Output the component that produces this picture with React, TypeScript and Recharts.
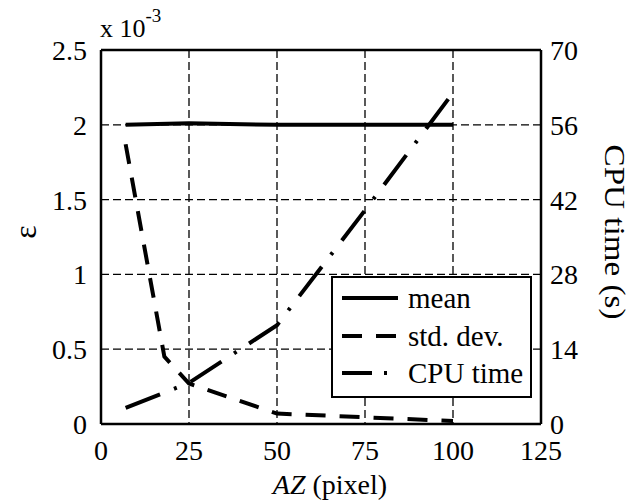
import React from 'react';
import { LineChart, Line, XAxis, YAxis, CartesianGrid, ReferenceLine } from 'recharts';

const azValues = [7, 18, 25, 50, 75, 100];
const meanValues = [2.0, null, 2.01, 2.0, 2.0, 2.0];
const stdDevValues = [1.87, 0.45, 0.27, 0.07, 0.045, 0.02];
const cpuValues = [3.0, null, 7.7, 18.5, 40, 62];

const xTicks = [0, 25, 50, 75, 100, 125];
const epsTicks = [0, 0.5, 1, 1.5, 2, 2.5];
const cpuTicks = [0, 14, 28, 42, 56, 70];

const data = azValues.map((az, i) => ({
  az,
  mean: meanValues[i],
  std: stdDevValues[i],
  cpu: cpuValues[i],
}));

const FONT = '"Times New Roman", "Liberation Serif", Tinos';
const fontCss = { fontFamily: FONT };

const SerifTick = (props: any) => {
  const { x, y, payload, textAnchor } = props;
  return (
    <text x={x} y={y} textAnchor={textAnchor} dy="0.355em" fill="#000" fontSize={28} style={fontCss}>
      {payload.value}
    </text>
  );
};

const XTick = (props: any) => {
  const { x, y, payload } = props;
  return (
    <text x={x} y={y} textAnchor="middle" dy="0.71em" fill="#000" fontSize={28} style={fontCss}>
      {payload.value}
    </text>
  );
};

const legendItems = [
  { label: 'mean', dash: undefined as string | undefined },
  { label: 'std. dev.', dash: '20 14' },
  { label: 'CPU time', dash: '30 12 3 12' },
];

export default function App() {
  return (
    <div style={{ position: 'absolute', left: 0, top: 0, width: 639, height: 504, background: '#fff', ...fontCss }}>
      <LineChart width={639} height={504} data={data} margin={{ top: 50, right: 0, bottom: 40, left: 0 }}>
        <CartesianGrid yAxisId="left" stroke="#000" strokeWidth={1.3} strokeDasharray="8 4" />
        <XAxis
          dataKey="az"
          type="number"
          domain={[0, 125]}
          ticks={xTicks}
          tick={<XTick />}
          tickLine={false}
          tickSize={8}
          tickMargin={8}
          height={40}
          axisLine={{ stroke: '#000', strokeWidth: 2.5 }}
        />
        <YAxis
          yAxisId="left"
          domain={[0, 2.5]}
          ticks={epsTicks}
          tick={<SerifTick />}
          tickLine={false}
          tickSize={8}
          tickMargin={6}
          width={101}
          axisLine={{ stroke: '#000', strokeWidth: 2.5 }}
        />
        <YAxis
          yAxisId="right"
          orientation="right"
          domain={[0, 70]}
          ticks={cpuTicks}
          tick={<SerifTick />}
          tickLine={false}
          tickSize={5}
          tickMargin={4}
          width={98}
          axisLine={{ stroke: '#000', strokeWidth: 2.5 }}
        />
        <ReferenceLine yAxisId="left" y={2.5} stroke="#000" strokeWidth={2.5} />
        <Line yAxisId="left" dataKey="mean" stroke="#000" strokeWidth={4} dot={false} connectNulls isAnimationActive={false} />
        <Line yAxisId="left" dataKey="std" stroke="#000" strokeWidth={4} strokeDasharray="20 14" dot={false} connectNulls isAnimationActive={false} />
        <Line yAxisId="right" dataKey="cpu" stroke="#000" strokeWidth={4} strokeDasharray="37 15 3 15" dot={false} connectNulls isAnimationActive={false} />
      </LineChart>
      <div
        style={{
          position: 'absolute',
          left: 331,
          top: 276,
          width: 197,
          height: 118,
          border: '2px solid #000',
          background: '#fff',
          fontSize: 29,
          color: '#000',
          ...fontCss,
        }}
      >
        {legendItems.map((it, i) => (
          <div key={it.label} style={{ position: 'absolute', left: 9, top: 2 + i * 37.5, height: 36, display: 'flex', alignItems: 'center', whiteSpace: 'nowrap', lineHeight: '36px' }}>
            <svg width={56} height={10} style={{ marginRight: 10 }}>
              <line x1={0} y1={5} x2={56} y2={5} stroke="#000" strokeWidth={4} strokeDasharray={it.dash} />
            </svg>
            <span style={fontCss}>{it.label}</span>
          </div>
        ))}
      </div>
      <svg width={639} height={504} style={{ position: 'absolute', left: 0, top: 0, pointerEvents: 'none' }}>
        <text x={100} y={37} style={fontCss} fontSize={26} fill="#000">
          x 10
          <tspan dy={-15} fontSize={19}>-3</tspan>
        </text>
        <text x={0} y={0} transform="translate(25,232) rotate(-90)" textAnchor="middle" dominantBaseline="central" style={fontCss} fontSize={32} fill="#000">ε</text>
        <text x={0} y={0} transform="translate(615,232) rotate(90)" textAnchor="middle" dominantBaseline="central" style={fontCss} fontSize={30} fill="#000" textLength={175} lengthAdjust="spacingAndGlyphs">CPU time (s)</text>
        <text x={330} y={494} textAnchor="middle" style={fontCss} fontSize={28} fill="#000">
          <tspan fontStyle="italic">AZ</tspan> (pixel)
        </text>
      </svg>
    </div>
  );
}
